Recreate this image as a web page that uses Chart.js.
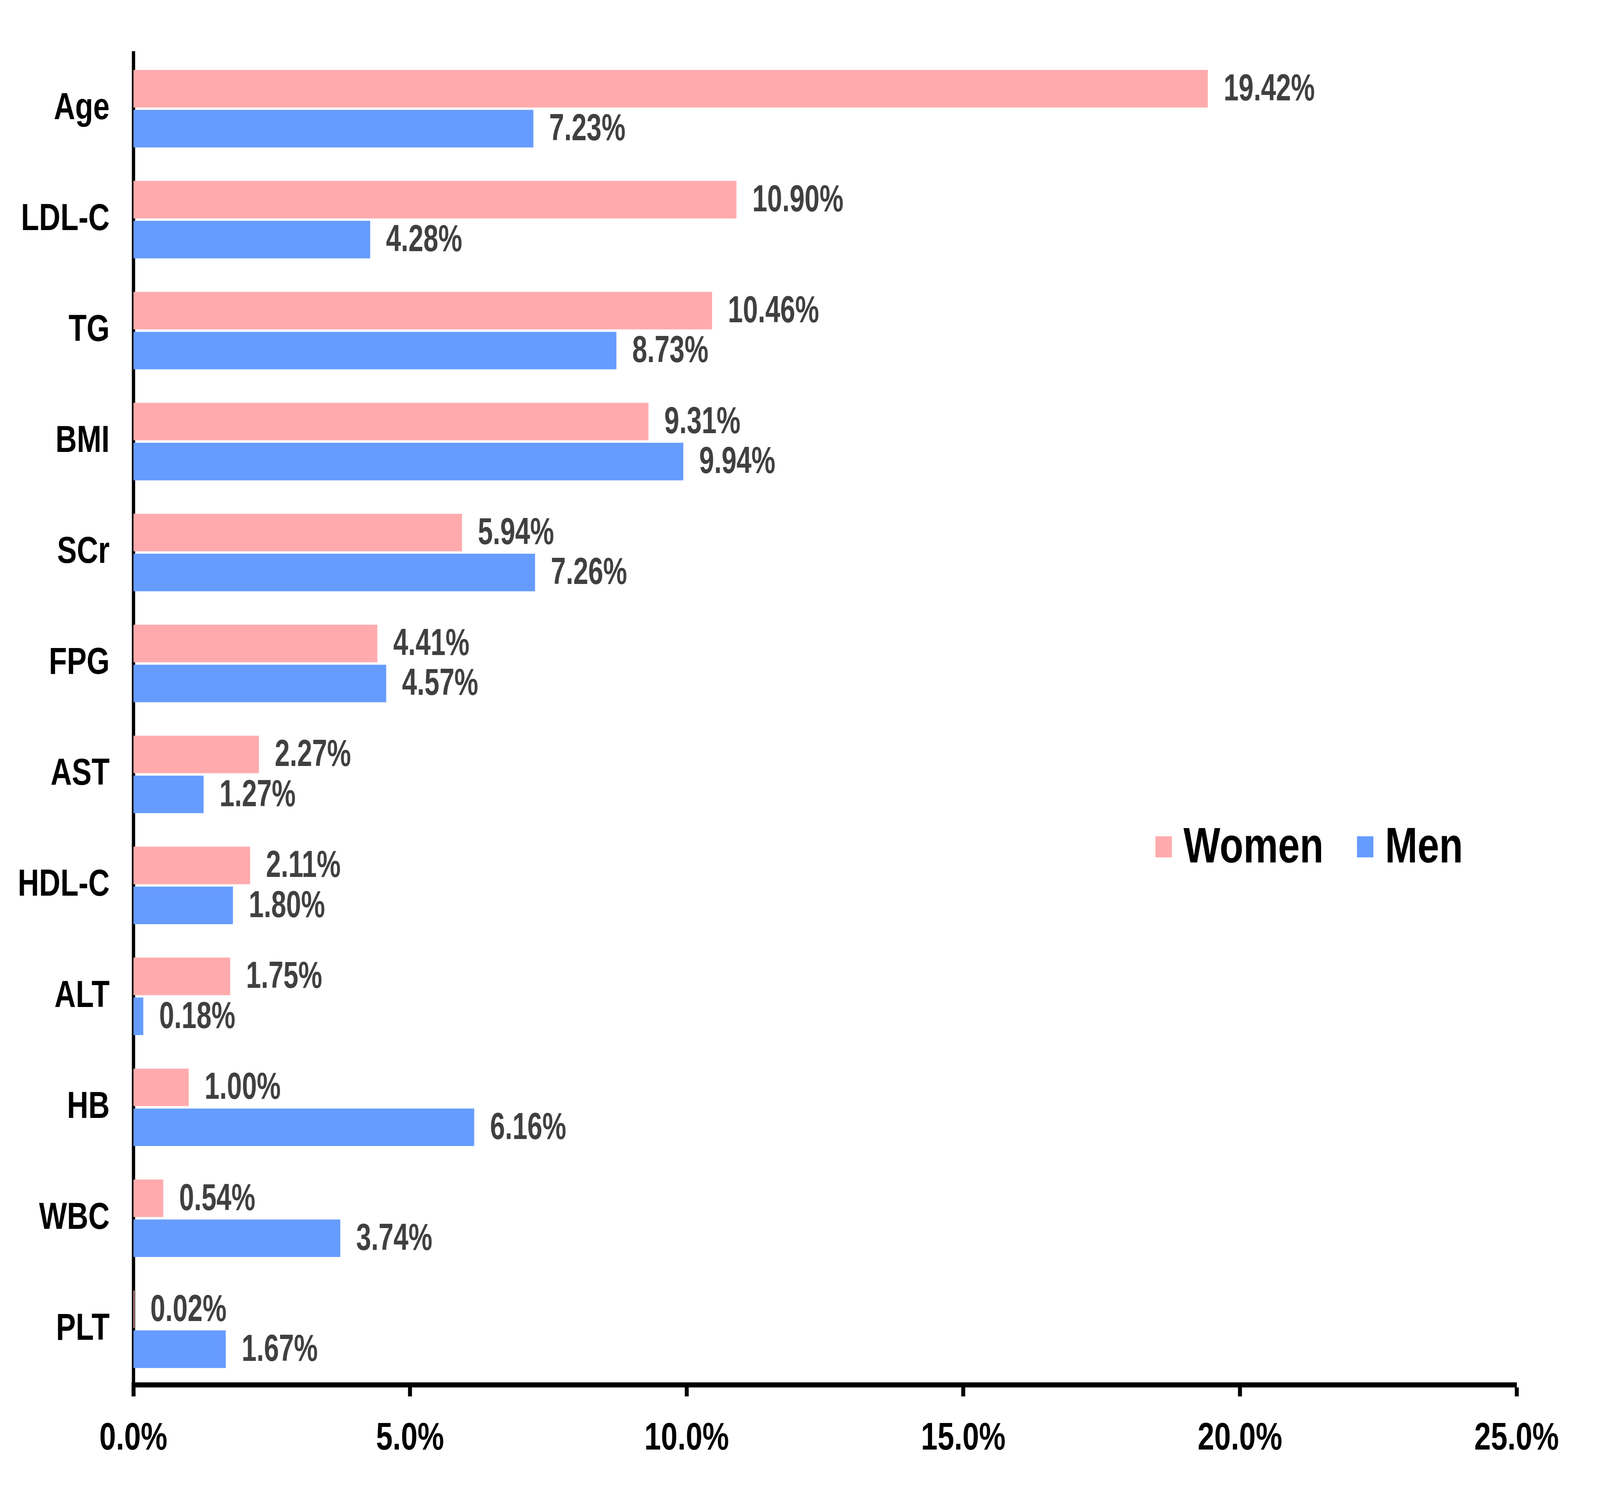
<!DOCTYPE html>
<html>
<head>
<meta charset="utf-8">
<script src="https://cdn.jsdelivr.net/npm/chart.js@4.4.1/dist/chart.umd.min.js"></script>
<style>
html, body { margin: 0; padding: 0; background: #fff; overflow: hidden; }
canvas { display: block; }
</style>
</head>
<body>
<!-- drawn in 5255 x 3812 units and fitted to the window -->
<canvas id="chart" width="5255" height="3812" style="width:100vw;height:100vh"></canvas>
<script>
let categories = ["Age", "LDL-C", "TG", "BMI", "SCr", "FPG", "AST", "HDL-C", "ALT", "HB", "WBC", "PLT"];
let women = [19.42, 10.90, 10.46, 9.31, 5.94, 4.41, 2.27, 2.11, 1.75, 1.00, 0.54, 0.02];
let men = [7.23, 4.28, 8.73, 9.94, 7.26, 4.57, 1.27, 1.80, 0.18, 6.16, 3.74, 1.67];
let xTicks = [0, 5, 10, 15, 20, 25];

let fontFamily = '"Liberation Sans", Arial, sans-serif';

// value labels at the end of each bar
let barLabels = {
  id: 'barLabels',
  afterDatasetsDraw(chart) {
    let ctx = chart.ctx;
    ctx.save();
    ctx.font = 'bold 97px ' + fontFamily;
    ctx.fillStyle = '#404040';
    ctx.textAlign = 'left';
    ctx.textBaseline = 'middle';
    chart.data.datasets.forEach((ds, i) => {
      let meta = chart.getDatasetMeta(i);
      meta.data.forEach((bar, j) => {
        ctx.save();
        ctx.translate(bar.x + 52, bar.y + 3);
        ctx.scale(0.91, 1);
        ctx.fillText(ds.data[j].toFixed(2) + '%', 0, 0);
        ctx.restore();
      });
    });
    ctx.restore();
  }
};

// legend drawn inside the plot area
let innerLegend = {
  id: 'innerLegend',
  afterDraw(chart, args, opts) {
    let ctx = chart.ctx;
    ctx.save();
    ctx.font = 'bold 128px ' + fontFamily;
    ctx.textBaseline = 'middle';
    ctx.textAlign = 'left';
    let x = opts.x;
    chart.data.datasets.forEach(ds => {
      ctx.fillStyle = ds.backgroundColor;
      ctx.fillRect(x, opts.y - opts.box / 2, opts.box, opts.box);
      x += opts.box + opts.gap;
      ctx.fillStyle = '#000';
      ctx.fillText(ds.label, x, opts.y + 5);
      x += ctx.measureText(ds.label).width + opts.spacing;
    });
    ctx.restore();
  }
};

chart = new Chart(document.getElementById("chart"), {
  type: 'bar',
  data: {
    labels: categories,
    datasets: [{
      label: 'Women',
      data: women,
      backgroundColor: '#FFABAD',
      categoryPercentage: 0.72,
      barPercentage: 0.94
    }, {
      label: 'Men',
      data: men,
      backgroundColor: '#669CFF',
      categoryPercentage: 0.72,
      barPercentage: 0.94
    }]
  },
  options: {
    indexAxis: 'y',
    responsive: false,
    animation: false,
    devicePixelRatio: 1,
    layout: { padding: { left: 0, top: 118, right: 274, bottom: 0 } },
    plugins: {
      legend: { display: false },
      tooltip: { enabled: false },
      innerLegend: { x: 3795, y: 2168, box: 54, gap: 38, spacing: 110 }
    },
    scales: {
      x: {
        min: 0,
        max: 25,
        afterBuildTicks: scale => { scale.ticks = xTicks.map(v => ({ value: v })); },
        afterFit: scale => { scale.height = 3812 - 3545; },
        grid: {
          drawOnChartArea: false,
          drawTicks: true,
          tickLength: 30,
          tickWidth: 13,
          tickColor: '#000'
        },
        border: { display: true, width: 13, color: '#000' },
        ticks: {
          padding: 50,
          color: '#000',
          font: { family: fontFamily, size: 98, weight: 'bold' },
          maxRotation: 0,
          callback: v => v.toFixed(1) + '%'
        }
      },
      y: {
        z: 1,
        afterFit: scale => { scale.width = 438; },
        grid: { display: false, drawTicks: false },
        border: { display: true, width: 11, color: '#000' },
        ticks: {
          padding: 78,
          color: '#000',
          font: { family: fontFamily, size: 97, weight: 'bold' }
        }
      }
    }
  },
  plugins: [barLabels, innerLegend]
});
</script>
</body>
</html>
